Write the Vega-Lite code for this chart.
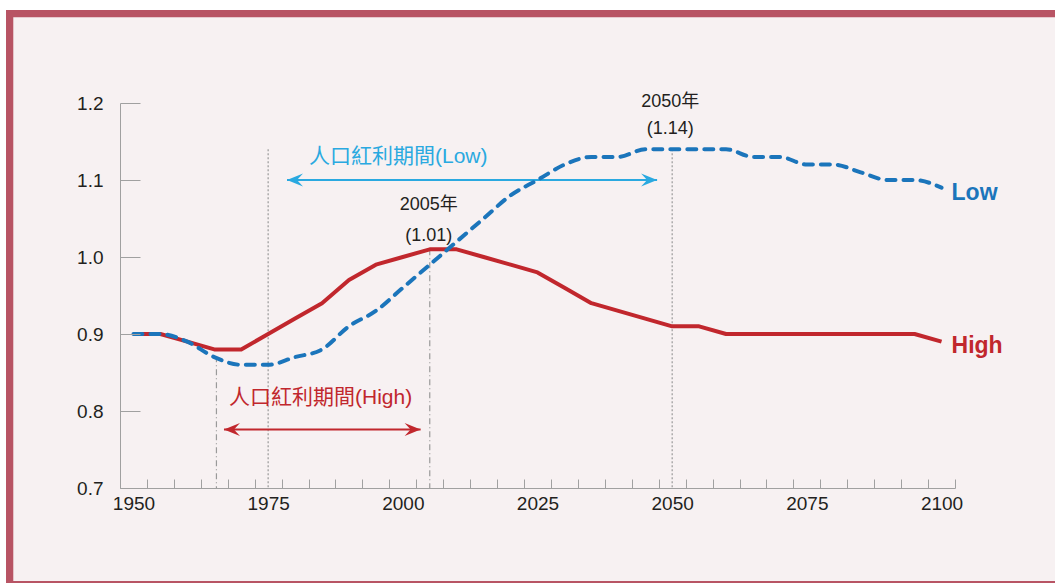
{
  "$schema": "https://vega.github.io/schema/vega-lite/v6.json",
  "width": 835,
  "height": 385,
  "autosize": {"type": "none"},
  "padding": {"left": 120, "top": 103, "right": 100, "bottom": 95},
  "background": "#ffffff",
  "config": {"view": {"stroke": null}, "font": "Liberation Sans"},
  "datasets": {
    "series": [
      {"year": 1950, "value": 0.90, "series": "High"},
      {"year": 1955, "value": 0.90, "series": "High"},
      {"year": 1960, "value": 0.89, "series": "High"},
      {"year": 1965, "value": 0.88, "series": "High"},
      {"year": 1970, "value": 0.88, "series": "High"},
      {"year": 1975, "value": 0.90, "series": "High"},
      {"year": 1980, "value": 0.92, "series": "High"},
      {"year": 1985, "value": 0.94, "series": "High"},
      {"year": 1990, "value": 0.97, "series": "High"},
      {"year": 1995, "value": 0.99, "series": "High"},
      {"year": 2000, "value": 1.00, "series": "High"},
      {"year": 2005, "value": 1.01, "series": "High"},
      {"year": 2010, "value": 1.01, "series": "High"},
      {"year": 2015, "value": 1.00, "series": "High"},
      {"year": 2020, "value": 0.99, "series": "High"},
      {"year": 2025, "value": 0.98, "series": "High"},
      {"year": 2030, "value": 0.96, "series": "High"},
      {"year": 2035, "value": 0.94, "series": "High"},
      {"year": 2040, "value": 0.93, "series": "High"},
      {"year": 2045, "value": 0.92, "series": "High"},
      {"year": 2050, "value": 0.91, "series": "High"},
      {"year": 2055, "value": 0.91, "series": "High"},
      {"year": 2060, "value": 0.90, "series": "High"},
      {"year": 2065, "value": 0.90, "series": "High"},
      {"year": 2070, "value": 0.90, "series": "High"},
      {"year": 2075, "value": 0.90, "series": "High"},
      {"year": 2080, "value": 0.90, "series": "High"},
      {"year": 2085, "value": 0.90, "series": "High"},
      {"year": 2090, "value": 0.90, "series": "High"},
      {"year": 2095, "value": 0.90, "series": "High"},
      {"year": 2100, "value": 0.89, "series": "High"},
      {"year": 1950, "value": 0.90, "series": "Low"},
      {"year": 1955, "value": 0.90, "series": "Low"},
      {"year": 1960, "value": 0.89, "series": "Low"},
      {"year": 1965, "value": 0.87, "series": "Low"},
      {"year": 1970, "value": 0.86, "series": "Low"},
      {"year": 1975, "value": 0.86, "series": "Low"},
      {"year": 1980, "value": 0.87, "series": "Low"},
      {"year": 1985, "value": 0.88, "series": "Low"},
      {"year": 1990, "value": 0.91, "series": "Low"},
      {"year": 1995, "value": 0.93, "series": "Low"},
      {"year": 2000, "value": 0.96, "series": "Low"},
      {"year": 2005, "value": 0.99, "series": "Low"},
      {"year": 2010, "value": 1.02, "series": "Low"},
      {"year": 2015, "value": 1.05, "series": "Low"},
      {"year": 2020, "value": 1.08, "series": "Low"},
      {"year": 2025, "value": 1.10, "series": "Low"},
      {"year": 2030, "value": 1.12, "series": "Low"},
      {"year": 2035, "value": 1.13, "series": "Low"},
      {"year": 2040, "value": 1.13, "series": "Low"},
      {"year": 2045, "value": 1.14, "series": "Low"},
      {"year": 2050, "value": 1.14, "series": "Low"},
      {"year": 2055, "value": 1.14, "series": "Low"},
      {"year": 2060, "value": 1.14, "series": "Low"},
      {"year": 2065, "value": 1.13, "series": "Low"},
      {"year": 2070, "value": 1.13, "series": "Low"},
      {"year": 2075, "value": 1.12, "series": "Low"},
      {"year": 2080, "value": 1.12, "series": "Low"},
      {"year": 2085, "value": 1.11, "series": "Low"},
      {"year": 2090, "value": 1.10, "series": "Low"},
      {"year": 2095, "value": 1.10, "series": "Low"},
      {"year": 2100, "value": 1.09, "series": "Low"}
    ],
    "refs": [
      {"year": 1965.4, "top": 0.871, "kind": "dashdot"},
      {"year": 1975, "top": 1.14, "kind": "dot"},
      {"year": 2005, "top": 1.01, "kind": "dashdot"},
      {"year": 2050, "top": 1.14, "kind": "dot"}
    ],
    "arrows": [
      {"period": "Low", "label": "人口紅利期間(Low)", "start": 1978.5, "end": 2047.2, "value": 1.1},
      {"period": "High", "label": "人口紅利期間(High)", "start": 1966.8, "end": 2003.3, "value": 0.776}
    ],
    "notes": [
      {"year": 2005, "value": 1.01, "label": "2005年\n(1.01)"},
      {"year": 2050, "value": 1.14, "label": "2050年\n(1.14)"}
    ]
  },
  "layer": [
    {
      "data": {"values": [{"part": "frame"}]},
      "mark": {"type": "rect", "color": "#b85464"},
      "encoding": {
        "x": {"datum": 1926.34, "type": "quantitative", "scale": {"domain": [1947.5, 2102.5], "nice": false, "zero": false},
          "axis": {
            "zindex": 1,
            "title": null,
            "values": [1947.5, 1952.5, 1957.5, 1962.5, 1967.5, 1972.5, 1977.5, 1982.5, 1987.5, 1992.5, 1997.5, 2002.5, 2007.5, 2012.5, 2017.5, 2022.5, 2027.5, 2032.5, 2037.5, 2042.5, 2047.5, 2052.5, 2057.5, 2062.5, 2067.5, 2072.5, 2077.5, 2082.5, 2087.5, 2092.5, 2097.5, 2102.5],
            "tickCount": 100,
            "labelExpr": "((datum.value - 1947.5) % 25 == 0 && datum.value < 2100) ? format(datum.value + 2.5, 'd') : ''",
            "labelOffset": 13.47,
            "labelOverlap": false,
            "labelBound": false,
            "labelFlush": false,
            "labelAlign": "center",
            "labelPadding": 15,
            "tickSize": -9,
            "tickColor": "#a0a0a0",
            "domainColor": "#a0a0a0",
            "grid": false,
            "labelFont": "Liberation Sans",
            "labelFontSize": 19,
            "labelColor": "#231f20"
          }},
        "x2": {"datum": 2135},
        "y": {"datum": 0.56, "type": "quantitative", "scale": {"domain": [0.7, 1.2], "nice": false, "zero": false},
          "axis": {
            "zindex": 1,
            "title": null,
            "values": [0.7, 0.8, 0.9, 1.0, 1.1, 1.2],
            "tickCount": 20,
            "format": ".1f",
            "tickSize": -20,
            "labelPadding": 37,
            "tickColor": "#a0a0a0",
            "domainColor": "#a0a0a0",
            "grid": false,
            "labelFont": "Liberation Sans",
            "labelFontSize": 19,
            "labelColor": "#231f20"
          }},
        "y2": {"datum": 1.3208}
      }
    },
    {
      "data": {"values": [{"part": "panel"}]},
      "mark": {"type": "rect", "color": "#f7f1f2"},
      "encoding": {
        "x": {"datum": 1927.69, "type": "quantitative"},
        "x2": {"datum": 2135},
        "y": {"datum": 0.5792, "type": "quantitative"},
        "y2": {"datum": 1.3113}
      }
    },
    {
      "data": {"name": "refs"},
      "transform": [{"filter": "datum.kind == 'dot'"}],
      "mark": {"type": "rule", "color": "#9a9a9a", "strokeWidth": 1.2, "strokeDash": [2, 2]},
      "encoding": {
        "x": {"field": "year", "type": "quantitative"},
        "y": {"field": "top", "type": "quantitative"},
        "y2": {"datum": 0.7}
      }
    },
    {
      "data": {"name": "refs"},
      "transform": [{"filter": "datum.kind == 'dashdot'"}],
      "mark": {"type": "rule", "color": "#9a9a9a", "strokeWidth": 1.2, "strokeDash": [6, 3, 1, 3]},
      "encoding": {
        "x": {"field": "year", "type": "quantitative"},
        "y": {"field": "top", "type": "quantitative"},
        "y2": {"datum": 0.7}
      }
    },
    {
      "data": {"name": "arrows"},
      "transform": [{"filter": "datum.period == 'Low'"}],
      "layer": [
        {"mark": {"type": "rule", "color": "#2aa9e0", "strokeWidth": 2},
         "encoding": {"x": {"field": "start", "type": "quantitative"}, "x2": {"field": "end"}, "y": {"field": "value", "type": "quantitative"}}},
        {"mark": {"type": "point", "filled": true, "color": "#2aa9e0", "opacity": 1, "size": 256, "shape": "M0,0 L2,-0.8 L1.25,0 L2,0.8 Z"},
         "encoding": {"x": {"field": "start", "type": "quantitative"}, "y": {"field": "value", "type": "quantitative"}}},
        {"mark": {"type": "point", "filled": true, "color": "#2aa9e0", "opacity": 1, "size": 256, "shape": "M0,0 L-2,-0.8 L-1.25,0 L-2,0.8 Z"},
         "encoding": {"x": {"field": "end", "type": "quantitative"}, "y": {"field": "value", "type": "quantitative"}}},
        {"mark": {"type": "text", "color": "#2aa9e0", "align": "left", "baseline": "middle", "dx": 22, "dy": -23, "fontSize": 21, "font": "Liberation Sans, Noto Sans CJK TC"},
         "encoding": {"x": {"field": "start", "type": "quantitative"}, "y": {"field": "value", "type": "quantitative"}, "text": {"field": "label"}}}
      ]
    },
    {
      "data": {"name": "arrows"},
      "transform": [{"filter": "datum.period == 'High'"}],
      "layer": [
        {"mark": {"type": "rule", "color": "#c1272d", "strokeWidth": 2},
         "encoding": {"x": {"field": "start", "type": "quantitative"}, "x2": {"field": "end"}, "y": {"field": "value", "type": "quantitative"}}},
        {"mark": {"type": "point", "filled": true, "color": "#c1272d", "opacity": 1, "size": 256, "shape": "M0,0 L2,-0.8 L1.25,0 L2,0.8 Z"},
         "encoding": {"x": {"field": "start", "type": "quantitative"}, "y": {"field": "value", "type": "quantitative"}}},
        {"mark": {"type": "point", "filled": true, "color": "#c1272d", "opacity": 1, "size": 256, "shape": "M0,0 L-2,-0.8 L-1.25,0 L-2,0.8 Z"},
         "encoding": {"x": {"field": "end", "type": "quantitative"}, "y": {"field": "value", "type": "quantitative"}}},
        {"mark": {"type": "text", "color": "#c1272d", "align": "left", "baseline": "middle", "dx": 5, "dy": -31, "fontSize": 21, "font": "Liberation Sans, Noto Sans CJK TC"},
         "encoding": {"x": {"field": "start", "type": "quantitative"}, "y": {"field": "value", "type": "quantitative"}, "text": {"field": "label"}}}
      ]
    },
    {
      "data": {"name": "series"},
      "transform": [{"filter": "datum.series == 'High'"}],
      "mark": {"type": "line", "color": "#c1272d", "strokeWidth": 4, "strokeJoin": "round"},
      "encoding": {
        "x": {"field": "year", "type": "quantitative"},
        "y": {"field": "value", "type": "quantitative"}
      }
    },
    {
      "data": {"name": "series"},
      "transform": [{"filter": "datum.series == 'Low'"}],
      "mark": {"type": "line", "color": "#1b75bb", "strokeWidth": 4, "strokeDash": [9, 8], "strokeCap": "round", "interpolate": "monotone"},
      "encoding": {
        "x": {"field": "year", "type": "quantitative"},
        "y": {"field": "value", "type": "quantitative"}
      }
    },
    {
      "data": {"name": "series"},
      "transform": [{"filter": "datum.series == 'Low' && datum.year == 2100"}],
      "mark": {"type": "text", "color": "#1b75bb", "align": "left", "baseline": "middle", "dx": 10, "dy": 5, "fontSize": 23, "fontWeight": "bold", "font": "Liberation Sans"},
      "encoding": {
        "x": {"field": "year", "type": "quantitative"},
        "y": {"field": "value", "type": "quantitative"},
        "text": {"field": "series"}
      }
    },
    {
      "data": {"name": "series"},
      "transform": [{"filter": "datum.series == 'High' && datum.year == 2100"}],
      "mark": {"type": "text", "color": "#c1272d", "align": "left", "baseline": "middle", "dx": 10, "dy": 4, "fontSize": 23, "fontWeight": "bold", "font": "Liberation Sans"},
      "encoding": {
        "x": {"field": "year", "type": "quantitative"},
        "y": {"field": "value", "type": "quantitative"},
        "text": {"field": "series"}
      }
    },
    {
      "data": {"name": "notes"},
      "transform": [{"filter": "datum.year == 2005"}],
      "mark": {"type": "text", "color": "#231f20", "align": "center", "baseline": "alphabetic", "dx": -1, "dy": -39, "lineBreak": "\n", "lineHeight": 31, "fontSize": 18, "font": "Liberation Sans, Noto Sans CJK TC"},
      "encoding": {
        "x": {"field": "year", "type": "quantitative"},
        "y": {"field": "value", "type": "quantitative"},
        "text": {"field": "label"}
      }
    },
    {
      "data": {"name": "notes"},
      "transform": [{"filter": "datum.year == 2050"}],
      "mark": {"type": "text", "color": "#231f20", "align": "center", "baseline": "alphabetic", "dx": -2, "dy": -42, "lineBreak": "\n", "lineHeight": 27, "fontSize": 18, "font": "Liberation Sans, Noto Sans CJK TC"},
      "encoding": {
        "x": {"field": "year", "type": "quantitative"},
        "y": {"field": "value", "type": "quantitative"},
        "text": {"field": "label"}
      }
    }
  ]
}
